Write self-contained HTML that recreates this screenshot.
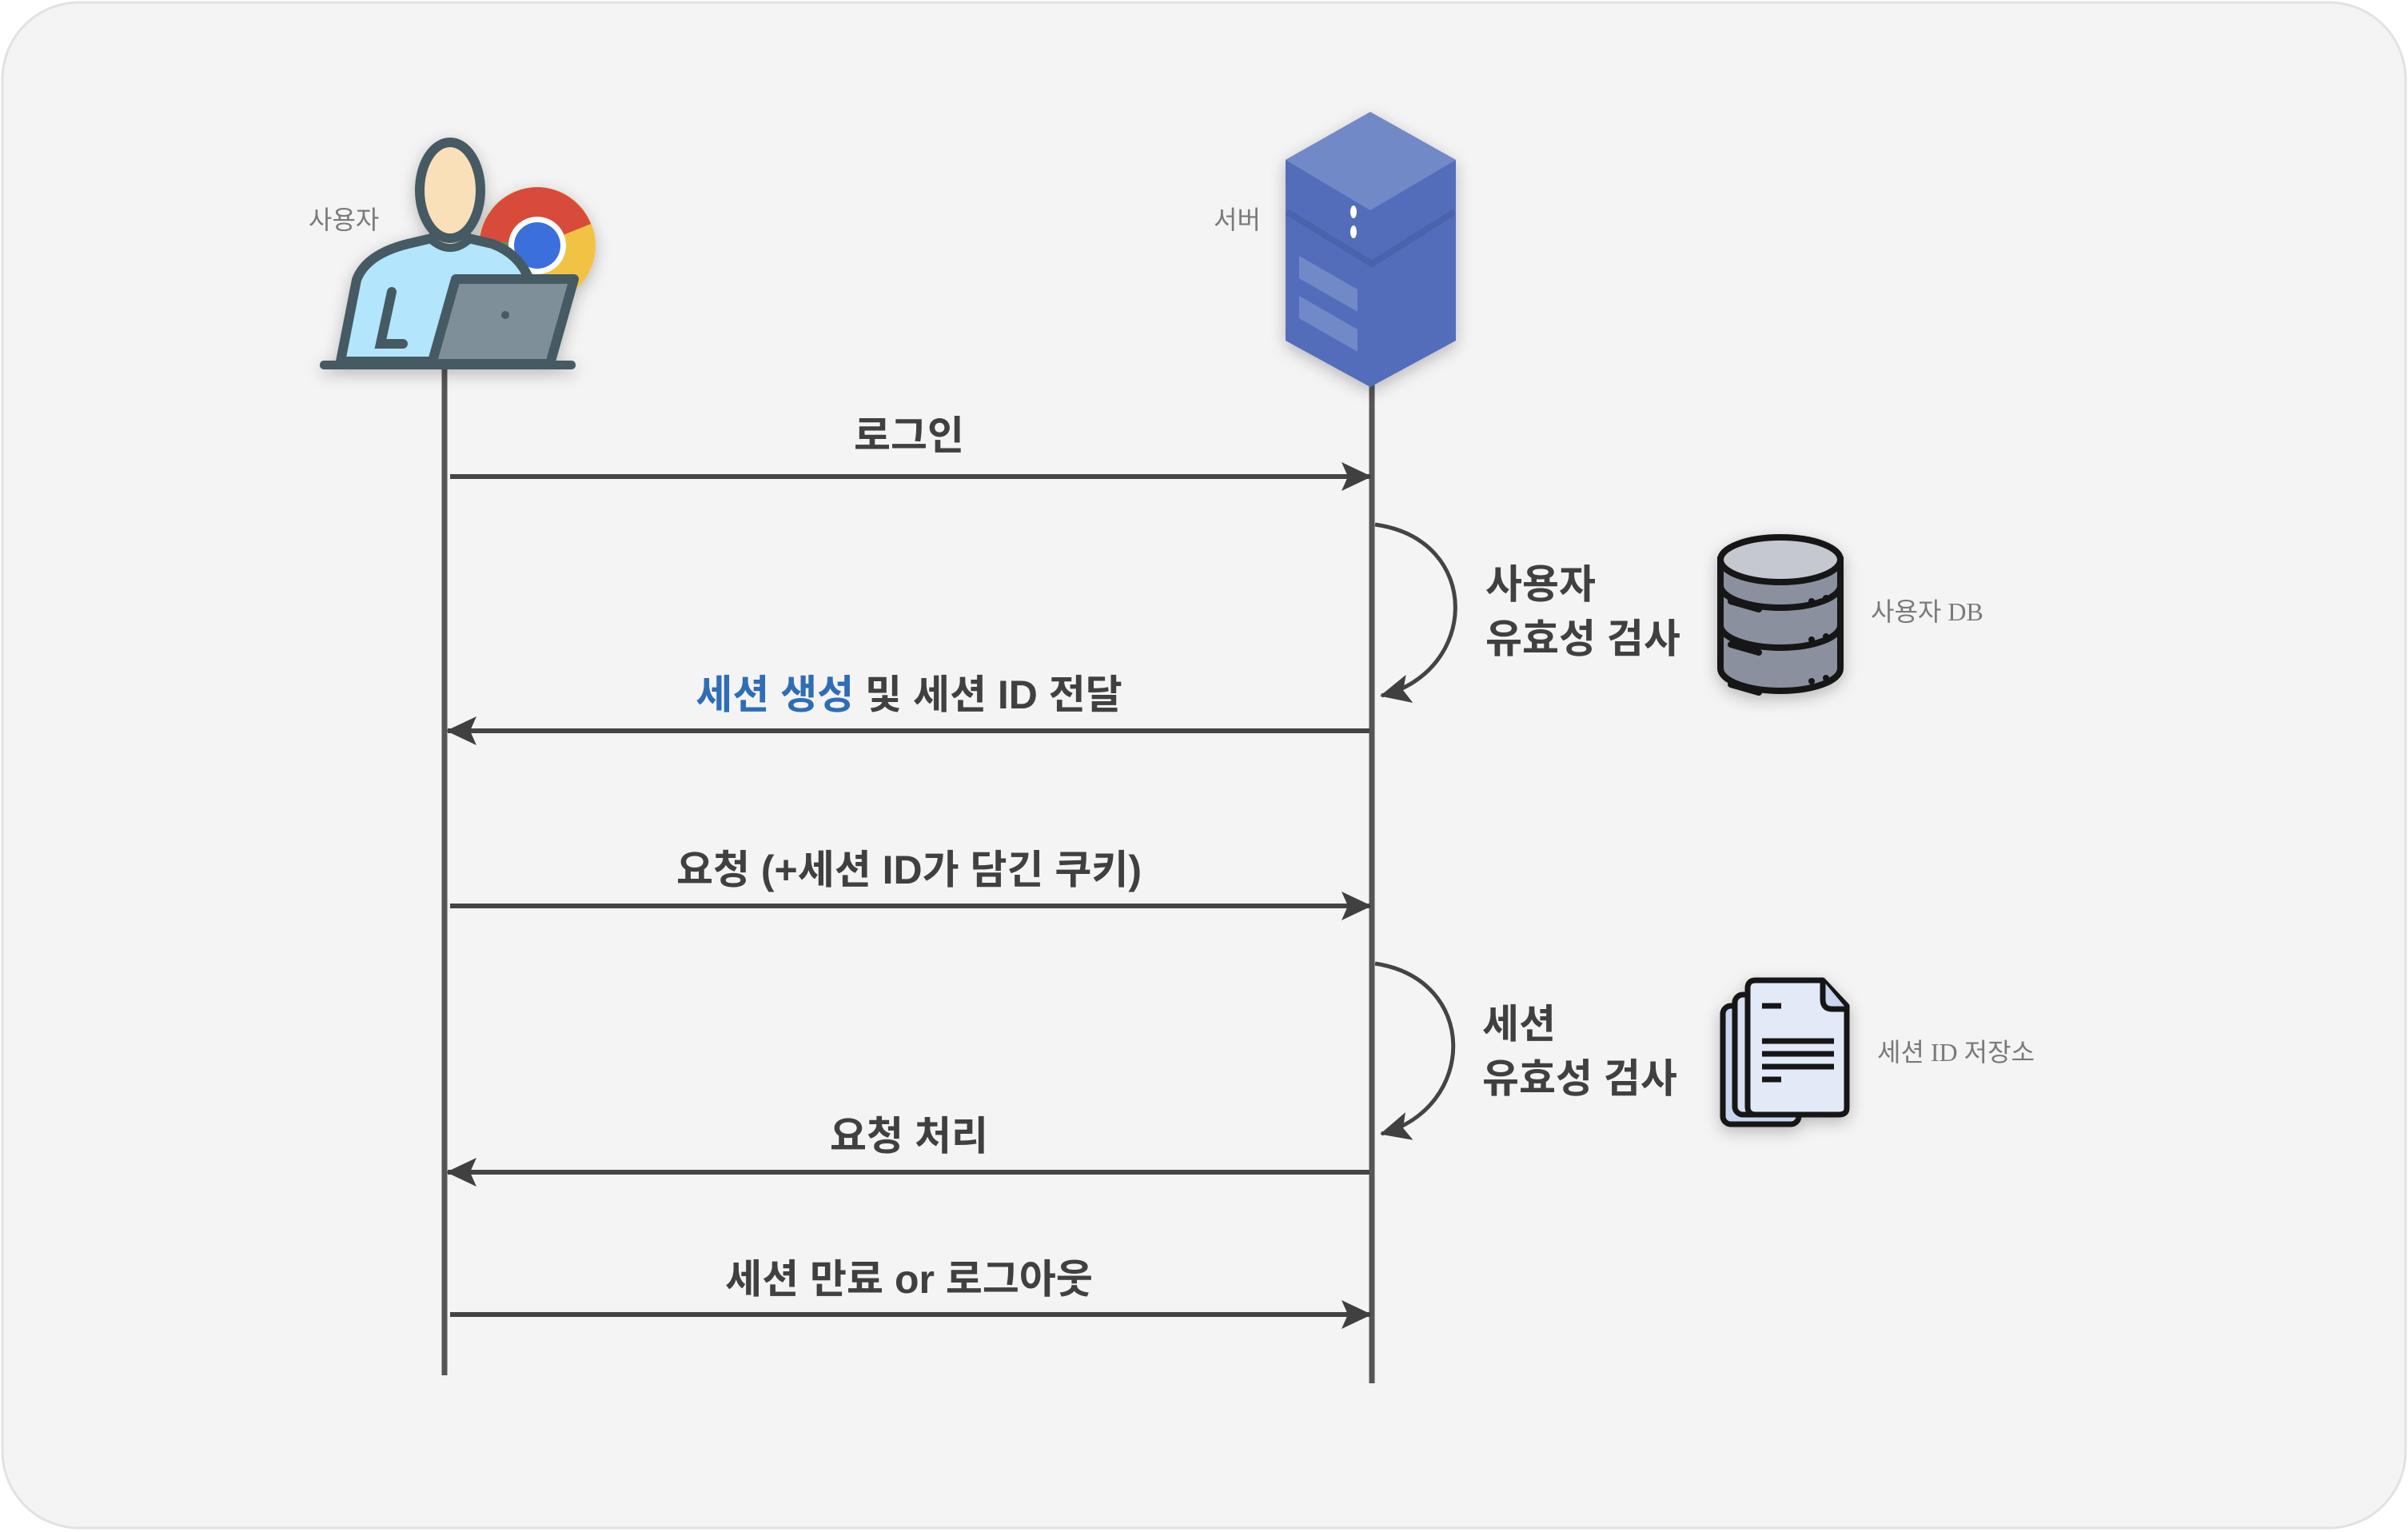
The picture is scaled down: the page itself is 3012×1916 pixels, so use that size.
<!DOCTYPE html>
<html><head><meta charset="utf-8">
<style>
html,body{margin:0;padding:0;background:#fff;}
svg{display:block;}
.lbl{font-family:"Liberation Sans","Noto Sans CJK KR",sans-serif;font-weight:700;font-size:50px;fill:#404040;}
.sm{font-family:"Liberation Serif","Noto Sans CJK KR",serif;font-size:32px;fill:#7a7a7a;}
</style></head>
<body>
<svg width="3012" height="1916" viewBox="0 0 3012 1916" xmlns="http://www.w3.org/2000/svg">
<defs>
<marker id="ah" markerUnits="userSpaceOnUse" markerWidth="40" markerHeight="40" refX="36" refY="18" orient="auto">
<path d="M0,0 L38,18 L0,36 L8,18 z" fill="#404040"/>
</marker>
<filter id="sh" x="-30%" y="-30%" width="160%" height="160%"><feGaussianBlur in="SourceAlpha" stdDeviation="10"/><feOffset dy="6"/><feComponentTransfer><feFuncA type="linear" slope="0.25"/></feComponentTransfer><feMerge><feMergeNode/><feMergeNode in="SourceGraphic"/></feMerge></filter>
</defs>
<rect x="3" y="3" width="3006" height="1908" rx="96" fill="#f4f4f4" stroke="#e2e2e2" stroke-width="3"/>

<line x1="556" y1="455" x2="556" y2="1720" stroke="#555" stroke-width="7"/>
<line x1="1716" y1="480" x2="1716" y2="1730" stroke="#555" stroke-width="7"/>

<!-- user icon -->
<g filter="url(#sh)">
<circle cx="672" cy="307" r="73" fill="#f2c244"/>
<path d="M672,307 L672,234 A73,73 0 0 1 739,280 Z" fill="#d84c3b"/>
<path d="M672,234 A73,73 0 0 0 600,300 L672,307 Z" fill="#d84c3b"/>
<path d="M600,300 A73,73 0 0 0 640,372 L672,307 Z" fill="#4a9e55"/>
<circle cx="672" cy="307" r="36" fill="#fff"/>
<circle cx="672" cy="307" r="29" fill="#3a6fdc"/>
<path d="M426,452 L446,350 Q458,318 510,305 L540,298 L586,298 L616,305 Q650,318 662,350 L640,452 Z" fill="#b3e5fc" stroke="#455a64" stroke-width="12" stroke-linejoin="round"/>
<path d="M542,270 L542,302 Q563,318 584,302 L584,270 Z" fill="#fae0b8" stroke="#455a64" stroke-width="10" stroke-linejoin="round"/>
<ellipse cx="563" cy="238" rx="38" ry="60" fill="#fae0b8" stroke="#455a64" stroke-width="12"/>
<path d="M490,365 L476,430 L504,430" fill="none" stroke="#455a64" stroke-width="12" stroke-linecap="round"/>
<path d="M570,349 L718,349 L688,455 L540,455 Z" fill="#7f8f9a" stroke="#455a64" stroke-width="12" stroke-linejoin="round"/>
<circle cx="632" cy="394" r="5" fill="#455a64"/>
<rect x="400" y="451" width="320" height="11" rx="5" fill="#455a64"/>
</g>
<text class="sm" x="386" y="286">사용자</text>

<!-- server icon -->
<g filter="url(#sh)">
<path d="M1714,140 L1821,200 L1821,426 L1714,484 L1608,426 L1608,200 Z" fill="#536dbb"/>
<path d="M1714,140 L1821,200 L1714,263 L1608,200 Z" fill="#7189c6"/>
<path d="M1610,265 L1716,330 L1819,265" fill="none" stroke="#4b63ac" stroke-width="8"/>
<ellipse cx="1693" cy="265" rx="4" ry="8" fill="#fff"/>
<ellipse cx="1693" cy="290" rx="4" ry="8" fill="#fff"/>
<path d="M1625,320 L1698,362 L1698,390 L1625,348 Z" fill="#7189c6"/>
<path d="M1625,370 L1698,412 L1698,440 L1625,398 Z" fill="#7189c6"/>
</g>
<text class="sm" x="1518" y="286">서버</text>

<text class="lbl" x="1137" y="562" text-anchor="middle">로그인</text>
<line x1="563" y1="596" x2="1714" y2="596" stroke="#444" stroke-width="6" marker-end="url(#ah)"/>

<path d="M1720,656 C1855,675 1850,840 1728,870" fill="none" stroke="#444" stroke-width="5" marker-end="url(#ah)"/>
<text class="lbl" x="1858" y="748" font-size="48">사용자</text>
<text class="lbl" x="1858" y="816" font-size="48">유효성 검사</text>

<text class="lbl" x="1137" y="886" text-anchor="middle"><tspan fill="#2f6db5">세션 생성</tspan> 및 세션 ID 전달</text>
<line x1="1713" y1="914" x2="560" y2="914" stroke="#444" stroke-width="6" marker-end="url(#ah)"/>

<text class="lbl" x="1137" y="1105" text-anchor="middle">요청 (+세션 ID가 담긴 쿠키)</text>
<line x1="563" y1="1133" x2="1714" y2="1133" stroke="#444" stroke-width="6" marker-end="url(#ah)"/>

<path d="M1720,1205 C1850,1225 1848,1385 1728,1418" fill="none" stroke="#444" stroke-width="5" marker-end="url(#ah)"/>
<text class="lbl" x="1854" y="1298" font-size="48">세션</text>
<text class="lbl" x="1854" y="1366" font-size="48">유효성 검사</text>

<text class="lbl" x="1137" y="1438" text-anchor="middle">요청 처리</text>
<line x1="1713" y1="1466" x2="560" y2="1466" stroke="#444" stroke-width="6" marker-end="url(#ah)"/>

<text class="lbl" x="1137" y="1617" text-anchor="middle">세션 만료 or 로그아웃</text>
<line x1="563" y1="1644" x2="1714" y2="1644" stroke="#444" stroke-width="6" marker-end="url(#ah)"/>

<!-- DB icon -->
<g filter="url(#sh)" stroke="#151515" stroke-width="8" stroke-linecap="round">
<path d="M2152,836 L2152,782 L2302,782 L2302,836 A75,28 0 0 1 2152,836 Z" fill="#8a909e"/>
<path d="M2152,782 L2152,732 L2302,732 L2302,782 A75,28 0 0 1 2152,782 Z" fill="#8a909e"/>
<path d="M2152,732 L2152,700 L2302,700 L2302,732 A75,28 0 0 1 2152,732 Z" fill="#8a909e"/>
<ellipse cx="2227" cy="700" rx="75" ry="28" fill="#c5c8d0"/>
<line x1="2165" y1="752" x2="2200" y2="762"/>
<line x1="2165" y1="806" x2="2200" y2="816"/>
<line x1="2165" y1="856" x2="2200" y2="866"/>
</g>
<g fill="#151515"><circle cx="2266" cy="752" r="4"/><circle cx="2284" cy="748" r="4"/><circle cx="2266" cy="800" r="4"/><circle cx="2284" cy="796" r="4"/><circle cx="2266" cy="852" r="4"/><circle cx="2284" cy="848" r="4"/></g>
<text class="sm" x="2340" y="776">사용자 DB</text>

<!-- docs icon -->
<g filter="url(#sh)" stroke="#151515" stroke-width="7" stroke-linejoin="round">
<rect x="2155" y="1258" width="95" height="148" rx="10" fill="#c8d6ef"/>
<rect x="2170" y="1244" width="100" height="150" rx="10" fill="#d6e0f2"/>
<path d="M2196,1226 L2280,1226 L2310,1258 L2310,1386 Q2310,1394 2300,1394 L2196,1394 Q2186,1394 2186,1384 L2186,1236 Q2186,1226 2196,1226 Z" fill="#e3eaf7"/>
<path d="M2280,1226 L2280,1250 Q2280,1262 2292,1262 L2310,1262" fill="#c8d6ef"/>
<line x1="2204" y1="1258" x2="2228" y2="1258"/>
<line x1="2204" y1="1302" x2="2294" y2="1302"/>
<line x1="2204" y1="1318" x2="2294" y2="1318"/>
<line x1="2204" y1="1334" x2="2294" y2="1334"/>
<line x1="2204" y1="1350" x2="2228" y2="1350"/>
</g>
<text class="sm" x="2348" y="1327">세션 ID 저장소</text>
</svg>
</body></html>
